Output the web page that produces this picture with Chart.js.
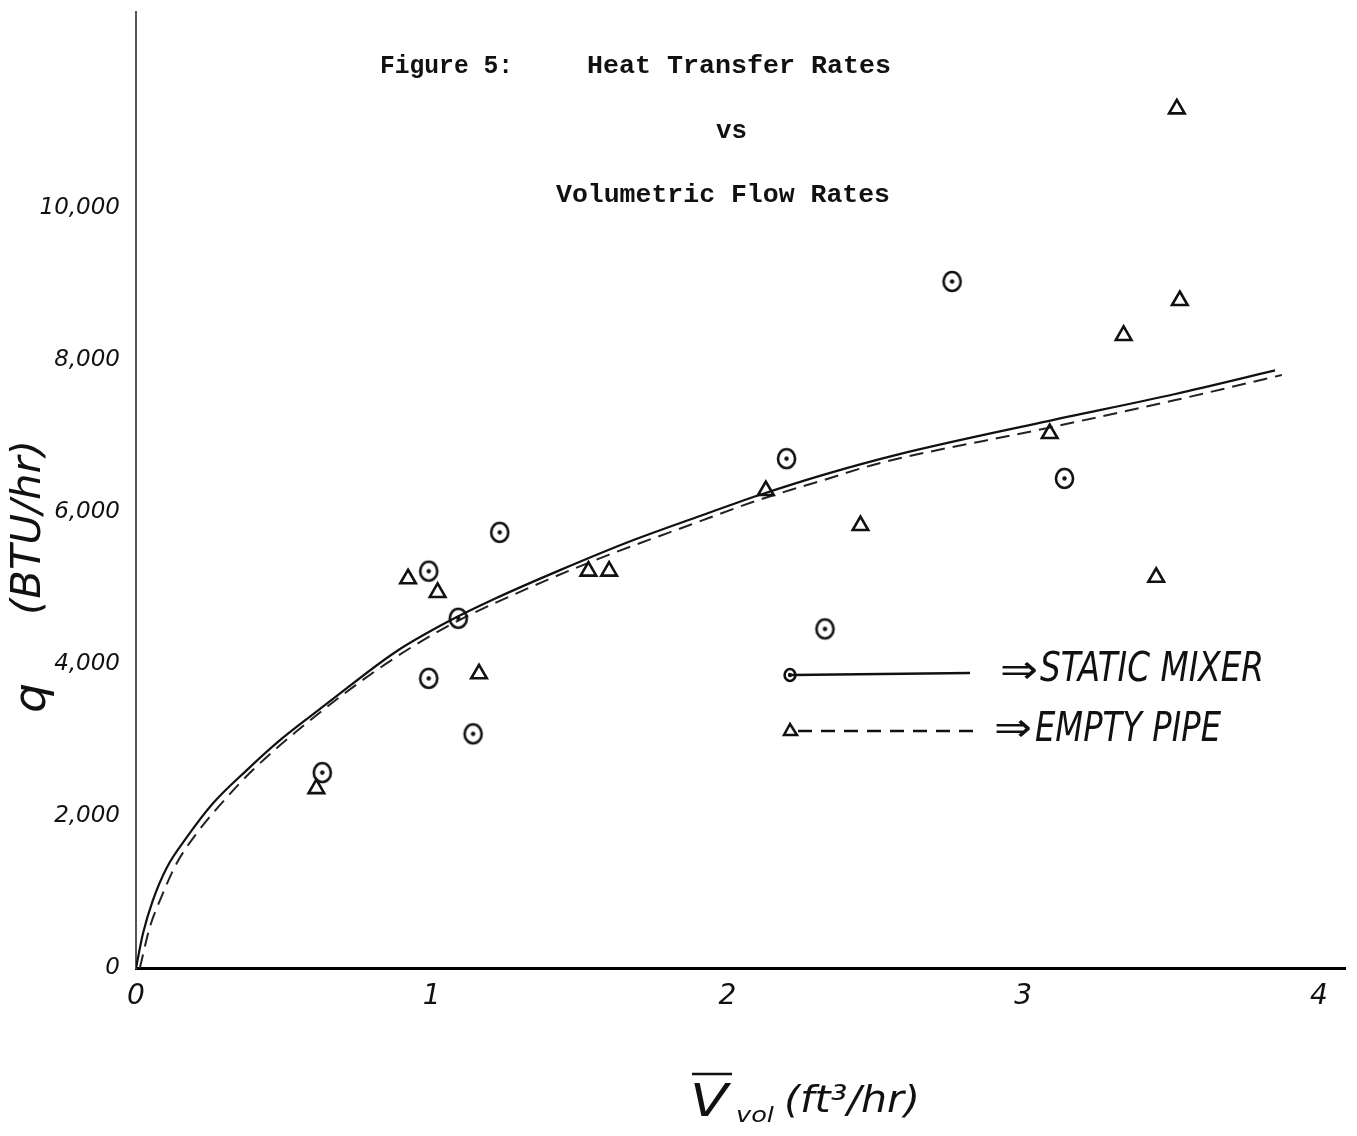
<!DOCTYPE html>
<html>
<head>
<meta charset="utf-8">
<title>Figure 5: Heat Transfer Rates vs Volumetric Flow Rates</title>
<script src="https://cdn.jsdelivr.net/npm/chart.js@4.4.1/dist/chart.umd.min.js"></script>
<style>
  html, body { margin: 0; padding: 0; background: #fff; }
  #wrap { width: 1357px; height: 1136px; }
</style>
</head>
<body>
<div id="wrap"><canvas id="heatChart"></canvas></div>
<script>
const mixerFlow = [0.63, 0.99, 1.09, 0.99, 1.14, 1.23, 2.20, 2.33, 2.76, 3.14];
const mixerHeat = [2570, 5220, 4600, 3810, 3080, 5730, 6700, 4460, 9030, 6440];

const pipeFlow = [0.61, 0.92, 1.02, 1.16, 1.53, 1.60, 2.13, 2.45, 3.09, 3.34, 3.53, 3.52, 3.45];
const pipeHeat = [2360, 5120, 4940, 3870, 5220, 5220, 6280, 5820, 7030, 8320, 8780, 11300, 5140];

// hand-fitted curves (traced)
const mixerCurveFlow = [0, 0.024, 0.057, 0.104, 0.172, 0.259, 0.374, 0.485, 0.596, 0.653, 0.879, 1.057, 1.215, 1.438, 1.663, 1.889, 2.111, 2.327, 2.572, 3.067, 3.515, 3.852];
const mixerCurveHeat = [0, 460, 890, 1320, 1720, 2160, 2600, 2990, 3330, 3500, 4160, 4560, 4860, 5240, 5600, 5920, 6225, 6490, 6750, 7180, 7550, 7860];

const pipeCurveFlow = [0.013, 0.047, 0.081, 0.138, 0.205, 0.306, 0.394, 0.542, 0.822, 1.047, 1.370, 1.596, 1.875, 2.101, 2.327, 2.505, 3.067, 3.515, 3.875];
const pipeCurveHeat = [0, 540, 890, 1380, 1770, 2240, 2600, 3110, 3940, 4480, 5070, 5430, 5830, 6150, 6420, 6630, 7090, 7470, 7800];

const flowTicks = [0, 1, 2, 3, 4];
const heatTicks = [0, 2000, 4000, 6000, 8000, 10000];

const ink = '#111';

function pairs(xs, ys) {
    return xs.map((x, i) => ({ x: x, y: ys[i] }));
}

// circle with a dot in the middle
function dotCircle(r) {
    const c = document.createElement('canvas');
    const s = Math.ceil(r * 2 + 6);
    c.width = s; c.height = s;
    const g = c.getContext('2d');
    g.strokeStyle = ink;
    g.fillStyle = ink;
    g.lineWidth = 2.6;
    g.beginPath();
    g.ellipse(s / 2, s / 2, r * 0.9, r, 0, 0, Math.PI * 2);
    g.stroke();
    g.beginPath();
    g.arc(s / 2, s / 2, 2.2, 0, Math.PI * 2);
    g.fill();
    return c;
}

const circleMark = dotCircle(9.5);
const smallCircleMark = dotCircle(6);

// squeeze text into a given width
function fitText(ctx, text, x, y, width) {
    const w = ctx.measureText(text).width;
    ctx.save();
    ctx.translate(x, y);
    ctx.scale(width / w, 1);
    ctx.fillText(text, 0, 0);
    ctx.restore();
}

const annotations = {
    id: 'annotations',
    afterDraw(chart) {
        const ctx = chart.ctx;
        ctx.save();
        ctx.fillStyle = ink;
        ctx.strokeStyle = ink;
        ctx.textBaseline = 'middle';

        // typed heading
        ctx.font = 'bold 26px "Liberation Mono", "DejaVu Sans Mono", monospace';
        ctx.textAlign = 'left';
        fitText(ctx, 'Figure 5:', 380, 66, 133);
        fitText(ctx, 'Heat Transfer Rates', 587, 66, 304);
        fitText(ctx, 'vs', 716, 131, 31);
        fitText(ctx, 'Volumetric Flow Rates', 556, 195, 334);

        // legend
        ctx.lineWidth = 2.5;
        ctx.beginPath();
        ctx.moveTo(792, 675);
        ctx.lineTo(970, 673);
        ctx.stroke();
        ctx.drawImage(smallCircleMark, 790 - smallCircleMark.width / 2, 675 - smallCircleMark.height / 2);

        ctx.setLineDash([14, 9]);
        ctx.beginPath();
        ctx.moveTo(798, 731);
        ctx.lineTo(975, 731);
        ctx.stroke();
        ctx.setLineDash([]);
        ctx.lineWidth = 2.5;
        ctx.beginPath();
        ctx.moveTo(790, 724);
        ctx.lineTo(784, 735);
        ctx.lineTo(797, 735);
        ctx.closePath();
        ctx.stroke();

        ctx.font = 'italic 40px "DejaVu Sans", sans-serif';
        fitText(ctx, '⇒', 1000, 673, 38);
        fitText(ctx, 'STATIC MIXER', 1040, 671, 224);
        fitText(ctx, '⇒', 994, 731, 38);
        fitText(ctx, 'EMPTY PIPE', 1035, 731, 186);

        // y axis title
        ctx.save();
        ctx.translate(32, 575);
        ctx.rotate(-Math.PI / 2);
        ctx.textAlign = 'left';
        ctx.font = 'italic 44px "DejaVu Sans", sans-serif';
        fitText(ctx, 'q', -138, 2, 30);
        ctx.font = 'italic 40px "DejaVu Sans", sans-serif';
        fitText(ctx, '(BTU/hr)', -40, -2, 175);
        ctx.restore();

        // x axis title
        ctx.textAlign = 'left';
        ctx.font = 'italic 44px "DejaVu Sans", sans-serif';
        fitText(ctx, 'V', 690, 1105, 38);
        ctx.lineWidth = 2.5;
        ctx.beginPath();
        ctx.moveTo(692, 1074);
        ctx.lineTo(732, 1074);
        ctx.stroke();
        ctx.font = 'italic 22px "DejaVu Sans", sans-serif';
        fitText(ctx, 'vol', 736, 1116, 38);
        ctx.font = 'italic 38px "DejaVu Sans", sans-serif';
        fitText(ctx, '(ft³/hr)', 784, 1102, 136);

        ctx.restore();
    }
};

const ctx = document.getElementById('heatChart').getContext('2d');
new Chart(ctx, {
    type: 'scatter',
    data: {
        datasets: [
            {
                label: 'STATIC MIXER',
                data: pairs(mixerFlow, mixerHeat),
                pointStyle: circleMark,
                pointRadius: 10,
                showLine: false
            },
            {
                label: 'EMPTY PIPE',
                data: pairs(pipeFlow, pipeHeat),
                pointStyle: 'triangle',
                pointRadius: 9,
                borderColor: ink,
                borderWidth: 2.6,
                backgroundColor: 'rgba(0,0,0,0)',
                showLine: false
            },
            {
                label: 'static mixer fit',
                data: pairs(mixerCurveFlow, mixerCurveHeat),
                showLine: true,
                borderColor: ink,
                borderWidth: 2.2,
                pointRadius: 0,
                cubicInterpolationMode: 'monotone'
            },
            {
                label: 'empty pipe fit',
                data: pairs(pipeCurveFlow, pipeCurveHeat),
                showLine: true,
                borderColor: '#222',
                borderWidth: 2,
                borderDash: [14, 8],
                pointRadius: 0,
                cubicInterpolationMode: 'monotone'
            }
        ]
    },
    options: {
        responsive: true,
        maintainAspectRatio: false,
        animation: false,
        layout: { padding: { top: 8, right: 7, left: 0, bottom: 0 } },
        plugins: {
            legend: { display: false },
            tooltip: { enabled: false }
        },
        scales: {
            x: {
                type: 'linear',
                min: 0,
                max: 4.09,
                afterBuildTicks: (axis) => { axis.ticks = flowTicks.map(v => ({ value: v })); },
                afterFit: (axis) => { axis.height = 168; axis.paddingRight = 0; axis.paddingLeft = 0; },
                grid: { display: false },
                border: { color: '#000', width: 3 },
                ticks: {
                    color: ink,
                    padding: 4,
                    font: { family: 'DejaVu Sans', style: 'italic', size: 28 }
                }
            },
            y: {
                type: 'linear',
                min: 0,
                max: 12580,
                afterBuildTicks: (axis) => { axis.ticks = heatTicks.map(v => ({ value: v })); },
                afterFit: (axis) => { axis.width = 136; axis.paddingTop = 0; axis.paddingBottom = 0; },
                grid: { display: false },
                border: { color: '#555', width: 2 },
                ticks: {
                    color: ink,
                    padding: 8,
                    font: { family: 'DejaVu Sans', style: 'italic', size: 23 },
                    callback: (v) => v.toLocaleString('en-US')
                }
            }
        }
    },
    plugins: [annotations]
});
</script>
</body>
</html>
